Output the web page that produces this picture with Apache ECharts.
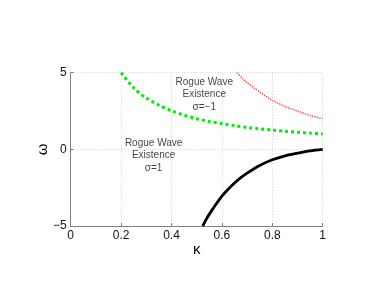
<!DOCTYPE html>
<html><head><meta charset="utf-8">
<script src="https://cdn.jsdelivr.net/npm/echarts@6/dist/echarts.min.js"></script>
<style>html,body{margin:0;padding:0;background:#fff}#c{width:382px;height:286px}</style>
</head><body><div id="c"></div>
<script>
// sigma = -1 boundary (green dashed)
const greenKappa = [0.2, 0.25, 0.3, 0.35, 0.4, 0.45, 0.5, 0.55, 0.6, 0.65, 0.7, 0.75, 0.8, 0.85, 0.9, 0.95, 1.0];
const greenOmega = [5.0, 4.0, 3.35, 2.88, 2.52, 2.23, 2.0, 1.82, 1.68, 1.55, 1.43, 1.34, 1.26, 1.18, 1.12, 1.06, 1.02];
// red dotted curve
const redKappa = [0.66, 0.68, 0.7, 0.725, 0.75, 0.775, 0.8, 0.85, 0.9, 0.95, 1.0];
const redOmega = [5.0, 4.65, 4.35, 4.03, 3.75, 3.46, 3.2, 2.8, 2.5, 2.22, 2.0];
// black solid curve
const blackKappa = [0.524, 0.54, 0.56, 0.58, 0.6, 0.625, 0.65, 0.675, 0.7, 0.75, 0.8, 0.85, 0.9, 0.95, 1.0];
const blackOmega = [-5.0, -4.5, -3.98, -3.5, -3.05, -2.6, -2.2, -1.85, -1.55, -1.05, -0.68, -0.42, -0.25, -0.1, 0.0];
// annotations
const noteTexts = ['Rogue Wave\nExistence\nσ=−1', 'Rogue Wave\nExistence\nσ=1'];
const notePos = [[0.53, 3.57], [0.329, -0.41]];
const xTicks = [0, 0.2, 0.4, 0.6, 0.8, 1];
const yTicks = [-5, 0, 5];

const pair = (xs, ys) => xs.map((x, i) => [x, ys[i]]);
const font = 'Liberation Sans, Arial, Helvetica, sans-serif';
const chart = echarts.init(document.getElementById('c'), null, {renderer: 'canvas'});
chart.setOption({
  animation: false,
  backgroundColor: '#fff',
  grid: {left: 70.7, right: 59.3, top: 72.7, bottom: 60, containLabel: false},
  xAxis: {
    type: 'value', min: 0, max: 1, interval: 0.2,
    name: 'κ', nameLocation: 'middle', nameGap: 16, nameMoveOverlap: false,
    nameTextStyle: {fontFamily: font, fontSize: 15, color: '#000'},
    axisLine: {show: true, onZero: false, lineStyle: {color: '#808080', width: 1}},
    axisTick: {show: true, inside: true, length: 3, lineStyle: {color: '#808080'}},
    axisLabel: {fontFamily: font, fontSize: 12, color: '#111', margin: 4,
      formatter: v => String(v)},
    splitLine: {show: true, lineStyle: {color: '#cfcfcf', type: [1, 2], width: 1}}
  },
  yAxis: {
    type: 'value', min: -5, max: 5, interval: 5,
    name: 'ω', nameLocation: 'middle', nameGap: 20, nameMoveOverlap: false,
    nameTextStyle: {fontFamily: font, fontSize: 15, color: '#000'},
    axisLine: {show: true, onZero: false, lineStyle: {color: '#808080', width: 1}},
    axisTick: {show: true, inside: true, length: 3, lineStyle: {color: '#808080'}},
    axisLabel: {fontFamily: font, fontSize: 12, color: '#111', margin: 4,
      formatter: v => String(v).replace('-', '−')},
    splitLine: {show: true, lineStyle: {color: '#cfcfcf', type: [1, 2], width: 1}}
  },
  series: [
    {type: 'line', data: pair(greenKappa, greenOmega), smooth: 0.3, symbol: 'none',
      lineStyle: {color: '#00ee00', width: 3, type: [3, 3], cap: 'butt'}},
    {type: 'line', data: pair(redKappa, redOmega), smooth: 0.3, symbol: 'none',
      lineStyle: {color: '#ff5050', width: 1.4, type: [1.5, 1]}},
    {type: 'line', data: pair(blackKappa, blackOmega), smooth: 0.3, symbol: 'none',
      lineStyle: {color: '#000', width: 2.8}},
    {type: 'scatter', symbolSize: 0, silent: true,
      data: notePos.map((p, i) => ({value: p, name: noteTexts[i]})),
      label: {show: true, position: 'inside', formatter: p => p.name,
        fontFamily: font, fontSize: 10, color: '#111', lineHeight: 12.5, align: 'center'}}
  ]
});
</script></body></html>
